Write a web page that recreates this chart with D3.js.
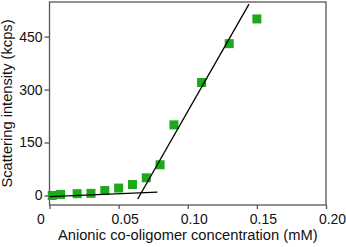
<!DOCTYPE html>
<html>
  <head>
    <meta charset="utf-8">
    <title>Scattering intensity</title>
    <script src="https://d3js.org/d3.v7.min.js"></script>
    <style>
      body { margin: 0; background: #fff; }
      svg { display: block; font-family: "Liberation Sans", Arial, sans-serif; }
      .axis text { font-size: 14px; fill: #111; }
      .axis path, .axis line { stroke: #555; stroke-width: 1.3; }
      .title { font-size: 14.7px; fill: #111; }
      .fit { fill: none; stroke: #000; stroke-width: 1.3; }
      .point { fill: #1caa1c; }
    </style>
  </head>
  <body>
    <svg id="chart" width="346" height="247"></svg>
    <script>
      // data
      var conc = [0.002, 0.008, 0.02, 0.03, 0.04, 0.05, 0.06, 0.07, 0.08, 0.09, 0.11, 0.13, 0.15];
      var intensity = [0, 3, 5, 6, 14, 21, 31, 50, 87, 200, 320, 430, 500];
      // two fitted lines, as [conc, intensity] end points
      var lowFit = [[0, -3], [0.078, 9.5]];
      var highFit = [[0.0638, -10], [0.1443, 542]];
      var xTicks = [0, 0.05, 0.10, 0.15, 0.20];
      var yTicks = [0, 150, 300, 450];

      var width = 346, height = 247;
      var margin = { top: 2, right: 20, bottom: 42, left: 49.5 };

      var chart = d3.select("#chart");

      var x = d3.scaleLinear()
        .domain([0, 0.2])
        .range([margin.left, width - margin.right]);
      var y = d3.scaleLinear()
        .domain([-27, 548])
        .range([height - margin.bottom, margin.top]);

      // frame
      chart.append("rect")
        .attr("x", x.range()[0])
        .attr("y", y.range()[1])
        .attr("width", x.range()[1] - x.range()[0])
        .attr("height", y.range()[0] - y.range()[1])
        .attr("fill", "none")
        .attr("stroke", "#555")
        .attr("stroke-width", 1.3);

      var xAxis = d3.axisBottom(x)
        .tickValues(xTicks)
        .tickFormat(function(d) { return d === 0 ? "0" : d3.format(".2f")(d); })
        .tickSizeInner(4)
        .tickSizeOuter(0)
        .tickPadding(5);
      var yAxis = d3.axisLeft(y)
        .tickValues(yTicks)
        .tickSizeInner(5)
        .tickSizeOuter(0)
        .tickPadding(2);

      var xAxisGroup = chart.append("g")
        .attr("class", "axis")
        .attr("transform", "translate(0," + y.range()[0] + ")")
        .call(xAxis);
      xAxisGroup.selectAll("text")
        .attr("dx", function(d) { return d === 0 ? -9 : 6; });

      chart.append("g")
        .attr("class", "axis")
        .attr("transform", "translate(" + x.range()[0] + ",0)")
        .call(yAxis);

      chart.selectAll(".axis .domain").remove();

      // axis titles
      chart.append("text")
        .attr("class", "title")
        .attr("x", (x.range()[0] + x.range()[1]) / 2)
        .attr("y", 240)
        .attr("text-anchor", "middle")
        .text("Anionic co-oligomer concentration (mM)");
      chart.append("text")
        .attr("class", "title")
        .attr("transform", "translate(12," + (y.range()[0] + y.range()[1]) / 2 + ") rotate(-90)")
        .attr("text-anchor", "middle")
        .text("Scattering intensity (kcps)");

      // points
      var size = 9;
      chart.append("g").selectAll(".point")
        .data(conc)
        .enter().append("rect")
          .attr("class", "point")
          .attr("x", function(d) { return x(d) - size / 2; })
          .attr("y", function(d, i) { return y(intensity[i]) - size / 2; })
          .attr("width", size)
          .attr("height", size);

      // fitted lines
      var line = d3.line()
        .x(function(d) { return x(d[0]); })
        .y(function(d) { return y(d[1]); });
      chart.append("path").attr("class", "fit").attr("d", line(lowFit));
      chart.append("path").attr("class", "fit").attr("d", line(highFit));
    </script>
  </body>
</html>
